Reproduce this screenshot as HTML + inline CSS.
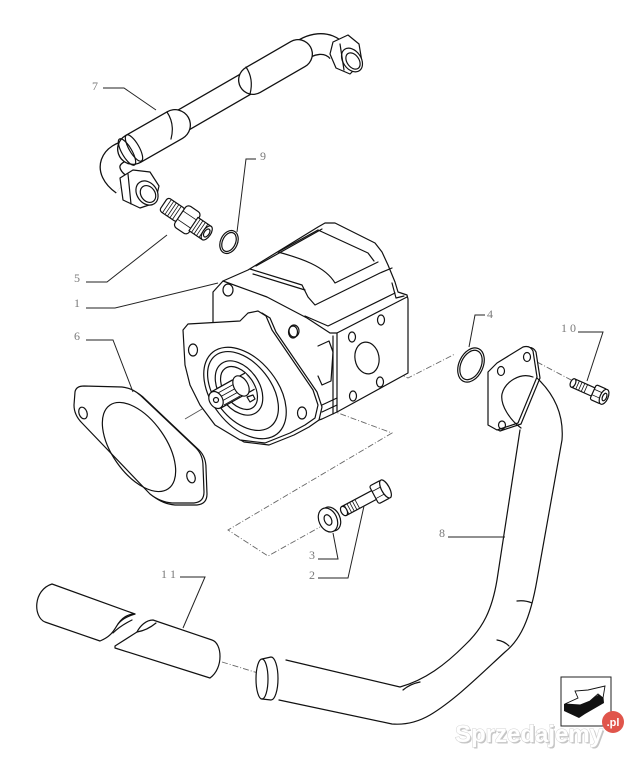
<!DOCTYPE html>
<html><head><meta charset="utf-8">
<style>
html,body{margin:0;padding:0;background:#fff;}
svg{display:block;}
.l{fill:none;stroke:#111;stroke-width:1.2;stroke-linejoin:round;stroke-linecap:round;}
.w{fill:#fff;stroke:#111;stroke-width:1.2;stroke-linejoin:round;}
.t{font-family:"Liberation Serif",serif;font-size:12px;fill:#7a7a7a;}
.ld{fill:none;stroke:#222;stroke-width:1;}
.d{fill:none;stroke:#666;stroke-width:0.9;stroke-dasharray:6 2 1 2;}
.th{fill:none;stroke:#111;stroke-width:0.8;}
</style></head><body>
<svg width="643" height="766" viewBox="0 0 643 766" xmlns="http://www.w3.org/2000/svg">
<rect width="643" height="766" fill="#fff"/>

<!-- dashed center lines -->
<path class="d" d="M330,410 L392,433 L228,530 L268,556 L320,527"/>
<path class="d" d="M367,358 L408,378 L455,354"/>
<path class="d" d="M537,362 L573,381"/>
<path class="d" d="M222,662 L258,673"/>
<line x1="185" y1="419" x2="214" y2="402" stroke="#555" stroke-width="0.9"/>

<!-- ===== HOSE 7 ===== -->
<path d="M131,150 C110,152 101,170 122,185" stroke="#111" stroke-width="21" fill="none"/>
<path d="M131,150 C110,152 101,170 122,185" stroke="#fff" stroke-width="18.4" fill="none"/>
<path d="M296,55 C310,42 328,40 338,52" stroke="#111" stroke-width="22" fill="none"/>
<path d="M296,55 C310,42 328,40 338,52" stroke="#fff" stroke-width="19.4" fill="none"/>
<path d="M135,148 L296,55" stroke="#111" stroke-width="24" fill="none"/>
<path d="M135,148 L296,55" stroke="#fff" stroke-width="21.4" fill="none"/>
<path d="M133,149 L175,125" stroke="#111" stroke-width="32" fill="none" stroke-linecap="round"/>
<path d="M133,149 L175,125" stroke="#fff" stroke-width="29.4" fill="none" stroke-linecap="round"/>
<path d="M253,80 L298,54" stroke="#111" stroke-width="30" fill="none" stroke-linecap="round"/>
<path d="M253,80 L298,54" stroke="#fff" stroke-width="27.4" fill="none" stroke-linecap="round"/>
<ellipse class="l" cx="127" cy="152" rx="15" ry="5" transform="rotate(60 127 152)"/>
<ellipse class="l" cx="134" cy="148" rx="15" ry="5" transform="rotate(60 134 148)"/>
<path class="l" d="M175,125 m-8,-13 q8,12 4,27"/>
<path class="l" d="M253,80 m-7,-13 q8,12 4,27"/>
<!-- right nut -->
<polygon class="w" points="333,42 348,35 359,44 362,62 350,74 336,68 330,54"/>
<ellipse class="w" cx="352" cy="60" rx="9" ry="13" transform="rotate(-35 352 60)"/>
<ellipse class="l" cx="353" cy="61" rx="6" ry="9" transform="rotate(-35 353 61)"/>
<line class="l" x1="340" y1="44" x2="344" y2="70"/>
<!-- left nut -->
<polygon class="w" points="120,178 133,170 150,172 159,186 155,203 140,208 123,200"/>
<ellipse class="w" cx="147" cy="193" rx="10" ry="13" transform="rotate(-35 147 193)"/>
<ellipse class="l" cx="148" cy="194" rx="7" ry="9" transform="rotate(-35 148 194)"/>
<line class="l" x1="128" y1="174" x2="131" y2="204"/>

<!-- ===== FITTING 5 ===== -->
<g transform="translate(186,219) rotate(34)">
<rect class="w" x="-27" y="-8" width="21" height="16" rx="3"/>
<path class="th" d="M-23,-8V8M-20,-8V8M-17,-8V8M-14,-8V8M-11,-8V8"/>
<rect class="w" x="-7" y="-13" width="17" height="26" rx="4"/>
<path class="th" d="M-7,-5H10M-7,5H10"/>
<rect class="w" x="9" y="-8" width="16" height="16"/>
<path class="th" d="M12,-8V8M15,-8V8M18,-8V8M21,-8V8"/>
<ellipse class="w" cx="25" cy="0" rx="4" ry="8"/>
<ellipse class="l" cx="25" cy="0" rx="2.5" ry="4.5"/>
</g>

<!-- O-ring 9 -->
<ellipse class="l" cx="229" cy="242" rx="8.5" ry="12" transform="rotate(25 229 242)"/>
<ellipse class="l" cx="229" cy="242" rx="6.5" ry="10" transform="rotate(25 229 242)"/>

<!-- ===== PUMP ===== -->
<path class="w" d="M213,330 L213,292 L223,281 L248,270 L318,227 L325,223 L335,223 L375,243 L382,252 L388,265 L395,282 L398,292 L407,295 L408,299 L408,373 L337,412 L322,419 L300,426 Z"/>
<path class="l" d="M223,281 L267,297 L307,318 L330,333 L337,333 L407,297"/>
<path class="l" d="M337,333 L337,412 M333,336 L333,414"/>
<path class="l" d="M318,230 L368,253 L374,261"/>
<path class="l" d="M278,252 L318,230"/>
<path class="l" d="M278,252 C300,258 325,266 335,283 L378,262"/>
<path class="l" d="M250,269 L302,285 L308,297 L315,305 L380,273 L392,268"/>
<path class="l" d="M253,274 L305,290 M256,266 L322,229"/>
<path class="l" d="M305,316 L328,326 L395,293"/>
<path class="l" d="M392,283 L396,298 L404,296"/>
<path class="l" d="M318,346 L329,341 L333,352 L331,381 L322,385 L318,376"/>
<path class="l" d="M322,405 L337,398 M322,412 L337,405"/>
<ellipse class="l" cx="381" cy="320" rx="3.5" ry="5"/>
<ellipse class="l" cx="352" cy="337" rx="3.5" ry="5"/>
<ellipse class="l" cx="380" cy="382" rx="3.5" ry="5"/>
<ellipse class="l" cx="353" cy="396" rx="3.5" ry="5"/>
<ellipse class="l" cx="367" cy="358" rx="12" ry="16" transform="rotate(-10 367 358)"/>
<ellipse class="l" cx="228" cy="290" rx="5" ry="6"/>
<ellipse class="l" cx="294" cy="331" rx="5" ry="6"/>
<!-- flange -->
<path class="w" transform="translate(4,2)" d="M183,330 L188,324 L240,321 L248,313 L258,311 L266,316 L272,330 L313,390 L318,405 L315,418 L305,425 L290,433 L265,443 L240,440 L215,425 L200,405 L190,385 L185,365 Z"/>
<path class="w" d="M183,330 L188,324 L240,321 L248,313 L258,311 L266,316 L272,330 L313,390 L318,405 L315,418 L305,425 L290,433 L265,443 L240,440 L215,425 L200,405 L190,385 L185,365 Z"/>
<ellipse class="l" cx="193" cy="350" rx="4.5" ry="6"/>
<ellipse class="l" cx="302" cy="413" rx="4.5" ry="6"/>
<ellipse class="l" cx="293" cy="332" rx="4.5" ry="6"/>
<ellipse class="l" cx="245" cy="393" rx="52" ry="33" transform="rotate(52 245 393)"/>
<ellipse class="l" cx="243" cy="391" rx="45" ry="28" transform="rotate(52 243 391)"/>
<ellipse class="l" cx="239" cy="388" rx="30" ry="20" transform="rotate(55 239 388)"/>
<ellipse class="l" cx="239" cy="388" rx="24" ry="15" transform="rotate(55 239 388)"/>
<!-- shaft -->
<path d="M250,381 L216,400" stroke="#111" stroke-width="20" fill="none"/>
<path d="M250,381 L216,400" stroke="#fff" stroke-width="17.6" fill="none"/>
<path class="th" d="M218,393 L236,383 M220,397 L238,387 M222,401 L240,391 M224,405 L240,396 M216,389 L232,380"/>
<ellipse class="w" cx="241" cy="386" rx="11" ry="7" transform="rotate(60 241 386)"/>
<ellipse class="w" cx="216" cy="400" rx="9" ry="6.5" transform="rotate(60 216 400)"/>
<circle class="l" cx="216" cy="400" r="2.5"/>
<path class="l" d="M247,397 l6,-2 l2,4 l-5,3 z"/>

<!-- ===== GASKET 6 ===== -->
<path class="w" transform="translate(3,2)" d="M75,392 Q76,386 84,386 L122,387 Q132,388 140,395 L196,448 Q203,455 203,466 L204,492 Q204,502 194,503 L172,503 Q160,502 150,494 L82,423 Q74,415 74,405 Z"/>
<path class="w" d="M75,392 Q76,386 84,386 L122,387 Q132,388 140,395 L196,448 Q203,455 203,466 L204,492 Q204,502 194,503 L172,503 Q160,502 150,494 L82,423 Q74,415 74,405 Z"/>
<ellipse class="l" cx="139" cy="447" rx="51" ry="27" transform="rotate(55 139 447)"/>
<ellipse class="l" cx="83" cy="413" rx="4" ry="6" transform="rotate(-20 83 413)"/>
<ellipse class="l" cx="191" cy="477" rx="4" ry="6" transform="rotate(-20 191 477)"/>

<!-- ===== WASHER 3 & BOLT 2 ===== -->
<ellipse class="w" cx="331" cy="519" rx="9" ry="12.5" transform="rotate(-25 331 519)"/>
<ellipse class="w" cx="328" cy="520" rx="9" ry="12.5" transform="rotate(-25 328 520)"/>
<ellipse class="l" cx="328" cy="520" rx="3.5" ry="5.5" transform="rotate(-25 328 520)"/>
<g transform="translate(344,511) rotate(-28)">
<rect class="w" x="0" y="-5" width="36" height="10"/>
<path class="th" d="M3,-5V5M6,-5V5M9,-5V5M12,-5V5M15,-5V5"/>
<ellipse class="w" cx="0" cy="0" rx="3" ry="5"/>
<rect class="w" x="34" y="-10" width="13" height="20" rx="2"/>
<path class="th" d="M34,-4H47M34,4H47"/>
<ellipse class="w" cx="47" cy="0" rx="4" ry="10"/>
</g>

<!-- ===== O-RING 4 ===== -->
<ellipse class="l" cx="471" cy="365" rx="12" ry="18" transform="rotate(25 471 365)"/>
<ellipse class="l" cx="471" cy="365" rx="10" ry="15.5" transform="rotate(25 471 365)"/>

<!-- ===== BOLT 10 ===== -->
<g transform="translate(573,383) rotate(24)">
<rect class="w" x="0" y="-4.5" width="24" height="9"/>
<path class="th" d="M2,-4.5V4.5M5,-4.5V4.5M8,-4.5V4.5M11,-4.5V4.5M14,-4.5V4.5"/>
<ellipse class="w" cx="0" cy="0" rx="2.5" ry="4.5"/>
<rect class="w" x="22" y="-8" width="12" height="16" rx="2"/>
<path class="th" d="M22,-3H34M22,3H34"/>
<ellipse class="w" cx="34" cy="0" rx="4" ry="8"/>
<ellipse class="l" cx="34.5" cy="0" rx="2" ry="4"/>
</g>

<!-- ===== PIPE 8 ===== -->
<path class="w" transform="translate(3,1)" d="M488,372 L497,363 L523,347 Q530,345 533,351 L537,377 L518,423 L497,430 L488,425 Z"/>
<path class="l" d="M537,378 C555,395 564,415 562,440 L537,580 C530,620 520,640 505,652 C480,675 455,700 430,715 C418,722 405,725 392,724 L279,700"/>
<path class="l" d="M520,430 L497,580 C492,610 483,628 465,645 C445,665 425,680 400,687 L286,660"/>
<path class="w" d="M488,372 L497,363 L523,347 Q530,345 533,351 L537,377 L518,423 L497,430 L488,425 Z"/>
<path class="l" d="M533,377 C520,372 505,382 502,394 C500,405 510,420 521,428"/>
<ellipse class="l" cx="527" cy="357" rx="3.5" ry="4.5"/>
<ellipse class="l" cx="501" cy="371" rx="3.5" ry="4.5"/>
<ellipse class="l" cx="502" cy="425" rx="3.5" ry="4"/>
<path class="l" d="M517,601 Q525,600 532,603 M497,640 Q504,641 509,646 M403,690 Q410,684 420,682"/>
<path class="w" d="M262,659 L271,657 A7 21.5 0 0 1 271,700 L262,699 Z"/>
<ellipse class="w" cx="262" cy="679" rx="6" ry="20"/>

<!-- ===== SLEEVE 11 ===== -->
<path class="w" d="M52,584 L135,614 C128,614 122,618 118,624 C114,630 112,636 100,641 L45,622 C33,617 33,590 52,584 Z"/>
<path class="l" d="M118,624 C122,619 128,616 135,614 M113,633 C118,628 124,624 132,620"/>
<path class="w" d="M115,646 L137,632 C140,626 146,620 153,620 L212,640 C222,643 224,668 210,678 L115,648 Z"/>
<path class="l" d="M137,632 C143,631 150,628 156,623"/>

<!-- ===== LABELS ===== -->
<text class="t" x="92" y="90">7</text>
<path class="ld" d="M103,88 L124,88 L156,110"/>
<text class="t" x="260" y="160">9</text>
<path class="ld" d="M256,159 L246,159 L237,232"/>
<text class="t" x="74" y="282">5</text>
<path class="ld" d="M86,282 L107,282 L167,235"/>
<text class="t" x="74" y="307">1</text>
<path class="ld" d="M86,308 L115,308 L218,283"/>
<text class="t" x="74" y="340">6</text>
<path class="ld" d="M86,340 L113,340 L133,392"/>
<text class="t" x="487" y="318">4</text>
<path class="ld" d="M485,315 L475,315 L469,347"/>
<text class="t" x="561" y="332">1 0</text>
<path class="ld" d="M578,332 L603,332 L587,381"/>
<text class="t" x="439" y="537">8</text>
<path class="ld" d="M448,537 L505,537"/>
<text class="t" x="309" y="559">3</text>
<path class="ld" d="M318,559 L338,559 L333,533"/>
<text class="t" x="309" y="579">2</text>
<path class="ld" d="M318,578 L348,578 L364,506"/>
<text class="t" x="161" y="578">1 1</text>
<path class="ld" d="M180,577 L205,577 L183,628"/>

<!-- ===== LOGO ===== -->
<rect x="561" y="677" width="50" height="49" fill="#fff" stroke="#222" stroke-width="1"/>
<path d="M564,704 L580,697 L590,700 L603,692 L604,703 L585,714 L579,718 L564,711 Z" fill="#111"/>
<path d="M565,704 L578,698 L575,691 L588,690 L605,686 L603,698 L598,694 L590,701 L580,705 Z" fill="#fff" stroke="#111" stroke-width="0.9"/>

<!-- watermark -->
<text x="456.5" y="743.5" font-family="Liberation Sans, sans-serif" font-weight="bold" font-size="24" fill="#c4c4c4" textLength="148">Sprzedajemy</text>
<text x="455" y="742" font-family="Liberation Sans, sans-serif" font-weight="bold" font-size="24" fill="#fff" stroke="#d2d2d2" stroke-width="1" paint-order="stroke" textLength="148">Sprzedajemy</text>
<circle cx="613" cy="722" r="11" fill="#e0554b"/>
<text x="613" y="726" text-anchor="middle" font-family="Liberation Sans, sans-serif" font-weight="bold" font-size="11" fill="#fff">.pl</text>
</svg>
</body></html>
